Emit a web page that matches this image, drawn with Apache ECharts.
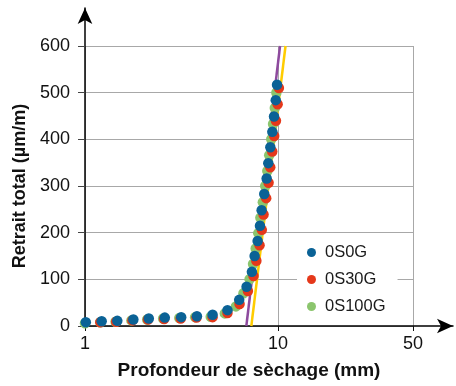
<!DOCTYPE html>
<html>
<head>
<meta charset="utf-8">
<script src="https://cdn.jsdelivr.net/npm/echarts@6/dist/echarts.min.js"></script>
<style>html,body{margin:0;padding:0;background:#fff}#c{width:456px;height:386px}</style>
</head>
<body>
<div id="c"></div>
<script>
const seriesNames = ['0S0G', '0S30G', '0S100G'];
const x0S0G = [1.01,1.22,1.47,1.78,2.14,2.59,3.15,3.80,4.58,5.47,6.29,6.87,7.32,7.56,7.84,8.06,8.22,8.48,8.73,8.90,9.12,9.34,9.53,9.73,9.88];
const y0S0G = [8,10,11,14,16,18,19,21,24,34,56,84,116,150,182,215,248,283,316,349,383,416,449,484,517];
const x0S30G = [0.99,1.20,1.45,1.76,2.12,2.57,3.13,3.78,4.58,5.47,6.32,6.98,7.46,7.72,8.02,8.24,8.41,8.68,8.93,9.11,9.33,9.55,9.75,9.95,10.1];
const y0S30G = [7,8,9,12,14,15,16,18,19,28,47,75,107,140,173,206,239,274,307,340,374,407,440,475,510];
const x0S100G = [1.0,1.2,1.44,1.74,2.1,2.54,3.08,3.72,4.48,5.3,6.05,6.62,7.12,7.42,7.66,7.9,8.1,8.34,8.58,8.8,9.0,9.22,9.42,9.62,9.8];
const y0S100G = [6,8,9,12,14,16,17,19,20,27,42,70,100,133,166,199,232,265,300,332,366,400,433,467,500];
const xLinePurple = [6.85, 10.24];
const yLinePurple = [0, 600];
const xLineYellow = [7.27, 10.93];
const yLineYellow = [0, 600];
const xTickLabels = [1, 10, 50];
const yTicks = [0, 100, 200, 300, 400, 500, 600];

const colors = ['#0a6296', '#e5381a', '#8bc56d'];
const zip = (a, b) => a.map((v, i) => [v, b[i]]);
const font = 'Liberation Sans, Arial, sans-serif';

const chart = echarts.init(document.getElementById('c'), null, {renderer: 'canvas'});
chart.setOption({
  animation: false,
  backgroundColor: '#fff',
  grid: [
    {left: 85, right: 43, top: 46, bottom: 60, containLabel: false},
    {left: 85, right: 3, top: 8, bottom: 60, containLabel: false}
  ],
  legend: {
    data: seriesNames,
    orient: 'vertical',
    left: 297, top: 238,
    padding: [6, 12, 6, 10],
    backgroundColor: '#fff',
    icon: 'circle',
    itemWidth: 9, itemHeight: 9,
    itemGap: 10,
    textStyle: {fontFamily: font, fontSize: 16.5, color: '#1a1a1a', lineHeight: 17, padding: [0, 0, 0, 4]}
  },
  xAxis: [
    {
      type: 'log', logBase: 10, min: xTickLabels[0], max: xTickLabels[xTickLabels.length - 1], gridIndex: 0,
      name: 'Profondeur de sèchage (mm)', nameLocation: 'middle', nameGap: 35,
      nameTextStyle: {fontFamily: font, fontSize: 19, fontWeight: 'bold', color: '#111'},
      axisLine: {show: false},
      axisTick: {show: true, length: 5, lineStyle: {color: '#111'}},
      axisLabel: {fontFamily: font, fontSize: 18, color: '#111', margin: 9},
      splitLine: {show: true, lineStyle: {color: '#a8a8a8', width: 1}},
      minorTick: {show: false}
    },
    {
      type: 'value', gridIndex: 1, min: 0, max: 1,
      axisLine: {show: true, onZero: false, symbol: ['none', 'arrow'], symbolSize: [11, 16], lineStyle: {color: '#000', width: 1.5}},
      axisTick: {show: false}, axisLabel: {show: false}, splitLine: {show: false}
    }
  ],
  yAxis: [
    {
      type: 'value', min: yTicks[0], max: yTicks[yTicks.length - 1], interval: 100, gridIndex: 0,
      name: 'Retrait total (µm/m)', nameLocation: 'middle', nameGap: 52,
      nameTextStyle: {fontFamily: font, fontSize: 18, fontWeight: 'bold', color: '#111'},
      axisLine: {show: false},
      axisTick: {show: true, length: 7, lineStyle: {color: '#444'}},
      axisLabel: {fontFamily: font, fontSize: 18, color: '#111', margin: 15},
      splitLine: {show: true, lineStyle: {color: '#a8a8a8', width: 1}}
    },
    {
      type: 'value', gridIndex: 1, min: 0, max: 1,
      axisLine: {show: true, onZero: false, symbol: ['none', 'arrow'], symbolSize: [11, 16], lineStyle: {color: '#000', width: 1.5}},
      axisTick: {show: false}, axisLabel: {show: false}, splitLine: {show: false}
    }
  ],
  series: [
    {name: 'lineP', type: 'line', data: zip(xLinePurple, yLinePurple), showSymbol: false, symbol: 'none',
      lineStyle: {color: '#8e4a9e', width: 2.5}, z: 1, silent: true},
    {name: 'lineY', type: 'line', data: zip(xLineYellow, yLineYellow), showSymbol: false, symbol: 'none',
      lineStyle: {color: '#ffcc00', width: 2.5}, z: 1, silent: true},
    {name: seriesNames[0], type: 'scatter', data: zip(x0S0G, y0S0G), symbol: 'circle', symbolSize: 10.5,
      itemStyle: {color: colors[0], opacity: 1}, z: 5},
    {name: seriesNames[1], type: 'scatter', data: zip(x0S30G, y0S30G), symbol: 'circle', symbolSize: 10.5,
      itemStyle: {color: colors[1], opacity: 1}, z: 4},
    {name: seriesNames[2], type: 'scatter', data: zip(x0S100G, y0S100G), symbol: 'circle', symbolSize: 10.5,
      itemStyle: {color: colors[2], opacity: 1}, z: 3}
  ]
});
</script>
</body>
</html>
